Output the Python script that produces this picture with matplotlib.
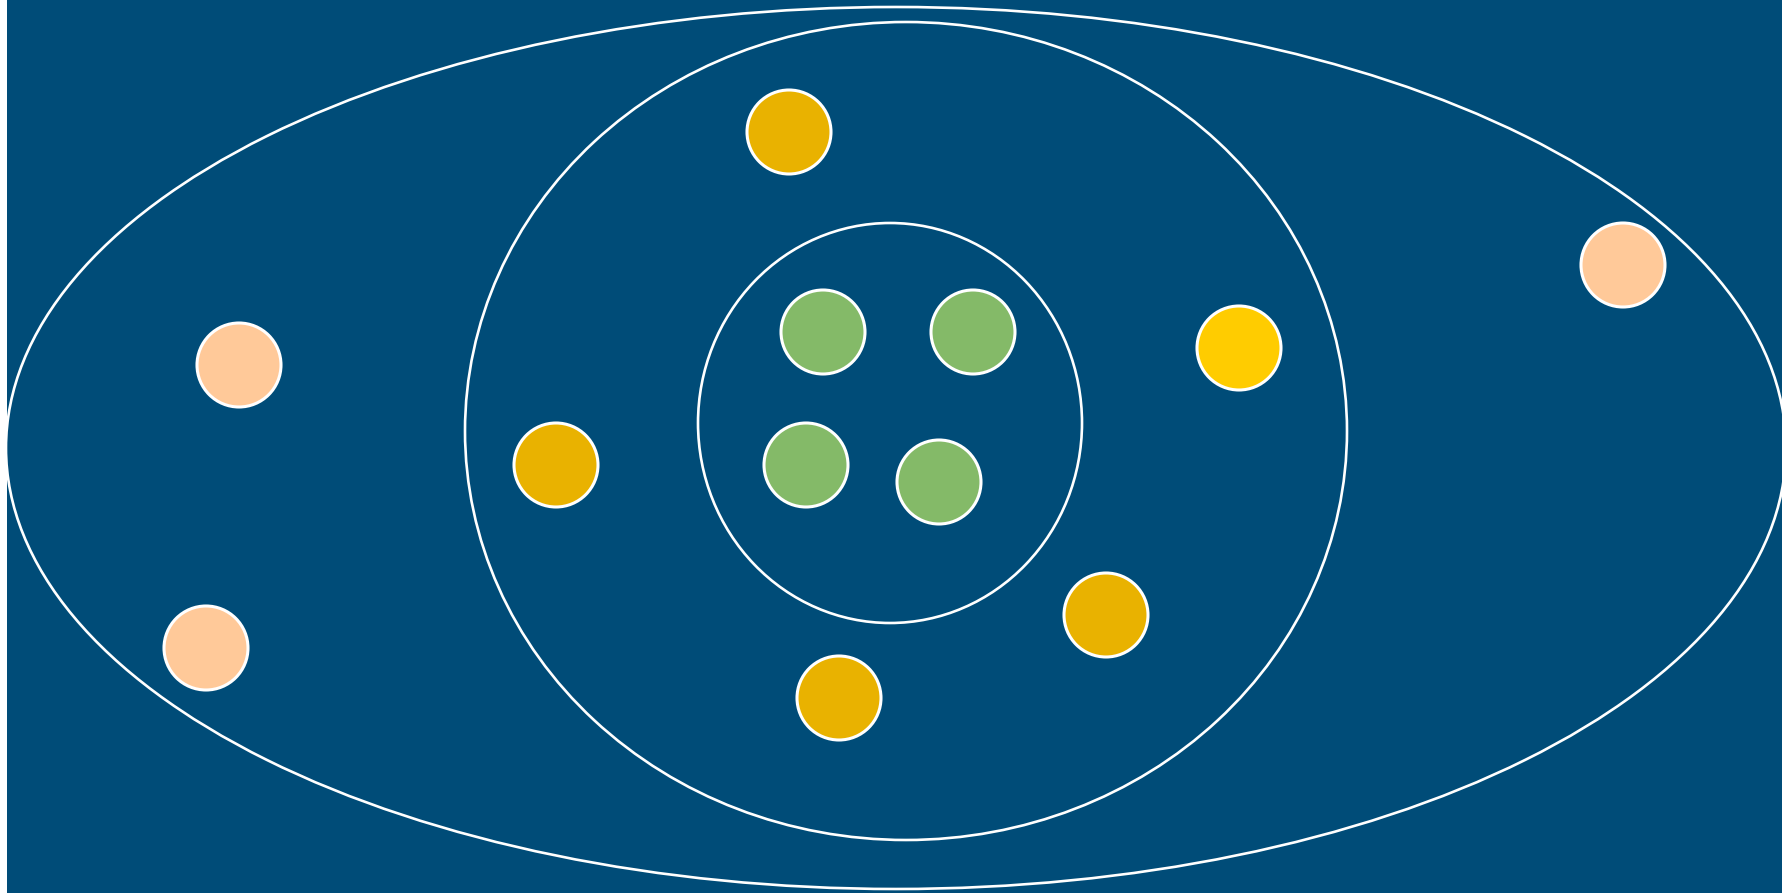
import matplotlib.pyplot as plt
from matplotlib.patches import Ellipse, Circle, Rectangle

W, H = 1783, 893

# enclosing rings (pixel space): center x, center y, width, height
ring_cx = [896, 906, 890]
ring_cy = [448, 431, 423]
ring_w = [1780, 882, 384]
ring_h = [882, 818, 400]

# leaf nodes
node_x = [789, 556, 1106, 839, 1239, 239, 206, 1623, 823, 973, 806, 939]
node_y = [132, 465, 615, 698, 348, 365, 648, 265, 332, 332, 465, 482]
node_group = ["mid", "mid", "mid", "mid", "mid2",
              "outer", "outer", "outer",
              "inner", "inner", "inner", "inner"]
group_colour = {"mid": "#E9B200", "mid2": "#FFCC00",
                "outer": "#FFC999", "inner": "#84BA68"}
node_r = 42

fig = plt.figure(figsize=(W / 100, H / 100), dpi=100)
ax = fig.add_axes([0, 0, 1, 1])
ax.set_xlim(0, W)
ax.set_ylim(H, 0)
ax.axis("off")

ax.add_patch(Rectangle((7, 0), W - 7, H, facecolor="#004C78", edgecolor="none"))

for cx, cy, w, h in zip(ring_cx, ring_cy, ring_w, ring_h):
    ax.add_patch(Ellipse((cx, cy), w, h, facecolor="none",
                         edgecolor="white", linewidth=1.9))

for x, y, g in zip(node_x, node_y, node_group):
    ax.add_patch(Circle((x, y), node_r, facecolor=group_colour[g],
                        edgecolor="white", linewidth=2.2))

fig.savefig("out.png", dpi=100)
